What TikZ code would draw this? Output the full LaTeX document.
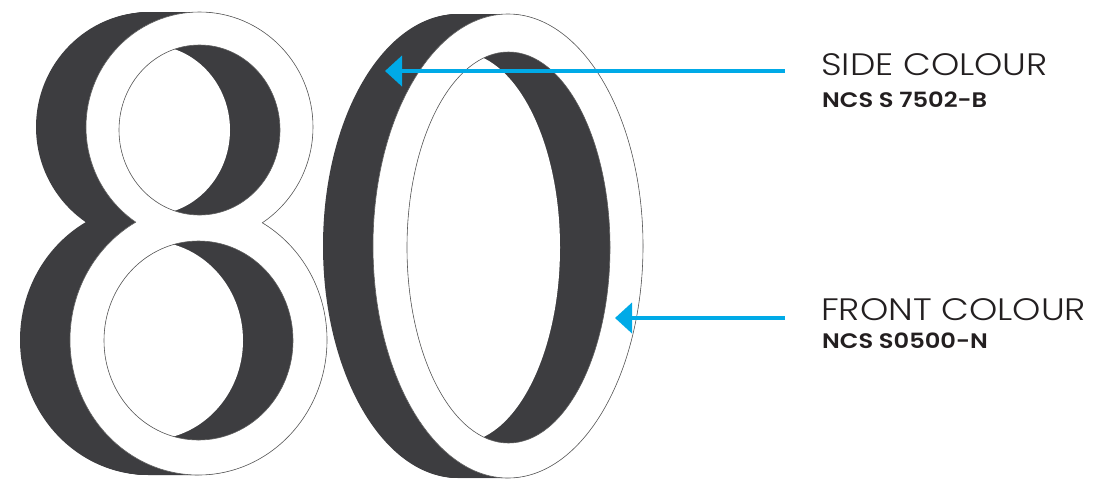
\documentclass[tikz,border=0pt]{standalone}
\usepackage{fontspec}
\setmainfont{Poppins}
\newfontfamily\lightfont[FakeStretch=1.16]{Poppins Light}
\newfontfamily\semifont[FakeStretch=1.15]{Poppins SemiBold}
\usetikzlibrary{arrows.meta}
\definecolor{sidegrey}{RGB}{61,61,64}
\definecolor{arrowblue}{RGB}{0,170,231}
\definecolor{edgegrey}{RGB}{95,95,95}
\definecolor{inkblack}{RGB}{35,31,32}
\tikzset{
  edge/.style={draw=edgegrey,line width=0.6pt},
  pointer/.style={draw=arrowblue,line width=4pt,-{Triangle[length=17pt,width=30pt]}},
  headline/.style={anchor=base west,inner sep=0pt,font=\lightfont\fontsize{31}{36}\selectfont,text=inkblack},
  codeline/.style={anchor=base west,inner sep=0pt,font=\semifont\fontsize{21}{25}\selectfont,text=inkblack},
}
\begin{document}
\begin{tikzpicture}[x=1pt,y=-1pt]
\useasboundingbox (0,0) rectangle (1100,480);
% ---------------- digit 0 ----------------
\foreach \t in {0,1,...,50}{
  \fill[sidegrey] (508-\t,246) ellipse[x radius=135,y radius=232];
}
\fill[white] (508,246) ellipse[x radius=135,y radius=232];
\fill[sidegrey] (508.5,247.5) ellipse[x radius=101.5,y radius=195.5];
\begin{scope}
  \clip (508.5,247.5) ellipse[x radius=101.5,y radius=195.5];
  \fill[white] (458.5,247.5) ellipse[x radius=101.5,y radius=195.5];
\end{scope}
\draw[edge] (508,246) ellipse[x radius=135,y radius=232];
\draw[edge] (508.5,247.5) ellipse[x radius=101.5,y radius=195.5];
% ---------------- digit 8 ----------------
\foreach \t in {0,1,...,50}{
  \fill[sidegrey] (199.5-\t,127) ellipse[x radius=113.5,y radius=115];
  \fill[sidegrey] (198.5-\t,340) ellipse[x radius=128.5,y radius=135];
}
\fill[white] (199.5,127) ellipse[x radius=113.5,y radius=115];
\fill[white] (198.5,340) ellipse[x radius=128.5,y radius=135];
\fill[sidegrey] (199.5,130) ellipse[x radius=80.5,y radius=85];
\fill[sidegrey] (198.5,340.5) ellipse[x radius=94.5,y radius=99.5];
\begin{scope}
  \clip (199.5,130) ellipse[x radius=80.5,y radius=85];
  \fill[white] (149.5,130) ellipse[x radius=80.5,y radius=85];
\end{scope}
\begin{scope}
  \clip (198.5,340.5) ellipse[x radius=94.5,y radius=99.5];
  \fill[white] (148.5,340.5) ellipse[x radius=94.5,y radius=99.5];
\end{scope}
\begin{scope}[even odd rule]
  \clip (-20,-20) rectangle (1120,500) (198.5,340) ellipse[x radius=128.5,y radius=135];
  \draw[edge] (199.5,127) ellipse[x radius=113.5,y radius=115];
\end{scope}
\begin{scope}[even odd rule]
  \clip (-20,-20) rectangle (1120,500) (199.5,127) ellipse[x radius=113.5,y radius=115];
  \draw[edge] (198.5,340) ellipse[x radius=128.5,y radius=135];
\end{scope}
\draw[edge] (199.5,130) ellipse[x radius=80.5,y radius=85];
\draw[edge] (198.5,340.5) ellipse[x radius=94.5,y radius=99.5];
% ---------------- pointers ----------------
\coordinate (sidefrom) at (785,71);
\coordinate (sideto) at (385,71);
\coordinate (frontfrom) at (785,318);
\coordinate (frontto) at (615,318);
\draw[pointer] (sidefrom) -- (sideto);
\draw[pointer] (frontfrom) -- (frontto);
% ---------------- labels ----------------
\node[headline] (sidetitle) at (821,75) {SIDE COLOUR};
\node[codeline] (sidecode) at (822,107) {NCS S 7502-B};
\node[headline] (fronttitle) at (821,320) {FRONT COLOUR};
\node[codeline] (frontcode) at (822,348) {NCS S0500-N};
\end{tikzpicture}
\end{document}
